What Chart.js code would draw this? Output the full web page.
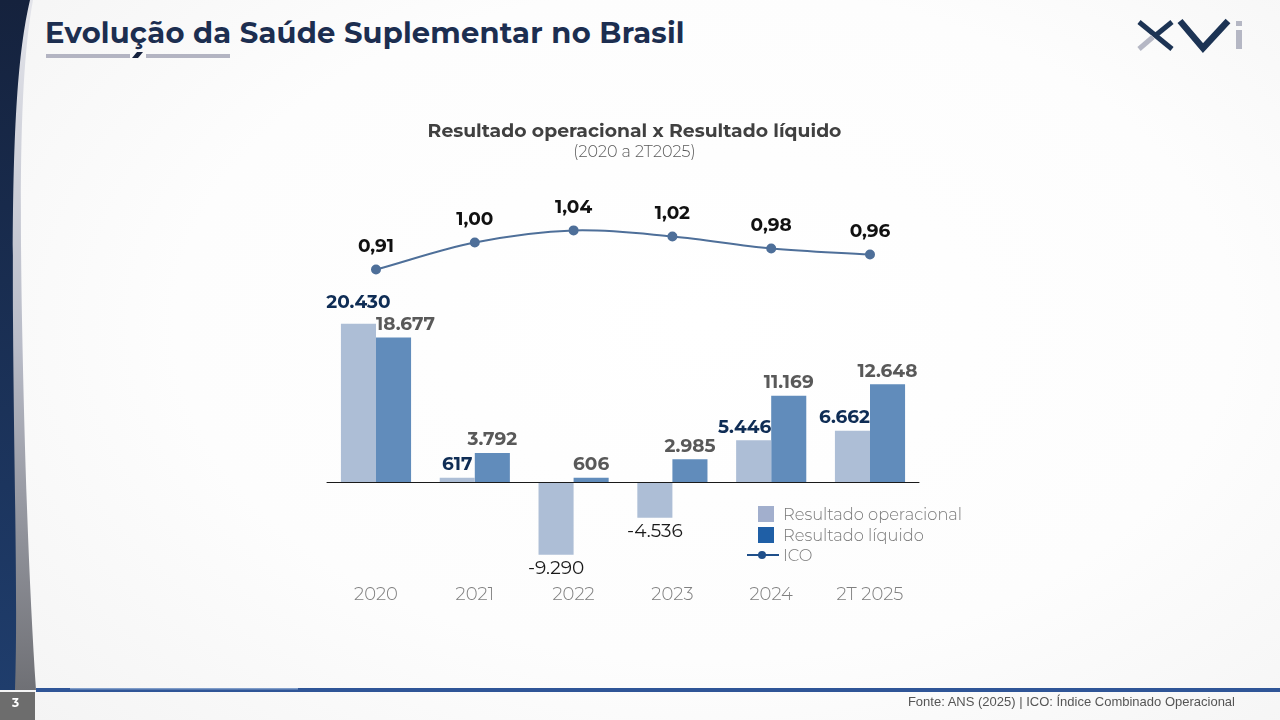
<!DOCTYPE html>
<html lang="pt-BR">
<head>
<meta charset="utf-8">
<title>Evolução da Saúde Suplementar no Brasil</title>
<script src="https://cdn.jsdelivr.net/npm/chart.js@4.4.1/dist/chart.umd.min.js"></script>
<style>
  html, body { margin: 0; padding: 0; }
  body {
    width: 1280px; height: 720px; overflow: hidden; position: relative;
    font-family: Montserrat, Inter, 'Open Sans', sans-serif;
    background: radial-gradient(ellipse 75% 85% at 55% 45%, #ffffff 0%, #fdfdfd 55%, #f3f3f3 100%);
  }
  #deco { position: absolute; left: 0; top: 0; }
  #pageTitle {
    position: absolute; left: 45px; top: 15px; margin: 0;
    font-size: 29px; font-weight: 700; color: #1c2e50; letter-spacing: 0.2px;
  }
  #chartWrap { position: absolute; left: 0; top: 0; width: 1280px; height: 720px; }
  #legend { position: absolute; left: 747px; top: 504px; font-size: 16.3px; color: #7a7a7a; font-weight: 300; }
  .lg { height: 20.5px; display: flex; align-items: center; }
  .sw { width: 16px; height: 16px; margin-left: 11px; margin-right: 9px; }
  .ln { width: 32px; height: 16px; margin-right: 4px; position: relative; }
  .ln::before { content: ''; position: absolute; left: 0; right: 0; top: 7px; height: 2px; background: var(--c); }
  .ln::after { content: ''; position: absolute; left: 11px; top: 4px; width: 8px; height: 8px; border-radius: 50%; background: var(--c); }
  #fonte {
    position: absolute; right: 45px; top: 694px;
    font-family: 'Liberation Sans Narrow', 'Arial Narrow', sans-serif; font-size: 13px; color: #555;
  }
  #pageNum { position: absolute; left: 12px; top: 695px; font-size: 12px; font-weight: 700; color: #fff; }
</style>
</head>
<body>
<svg id="deco" width="1280" height="720">
  <defs>
    <linearGradient id="navy" x1="0" y1="0" x2="0" y2="1">
      <stop offset="0" stop-color="#15223d"/>
      <stop offset="1" stop-color="#1f3d6c"/>
    </linearGradient>
    <linearGradient id="silver" x1="0" y1="0" x2="0" y2="1">
      <stop offset="0" stop-color="#e3e4ea"/>
      <stop offset="0.5" stop-color="#b9bcc8"/>
      <stop offset="1" stop-color="#6f7075"/>
    </linearGradient>
  </defs>
  <path d="M0 0 L33 0 C 22 60, 19 150, 22 320 C 25 480, 30 600, 36 690 L0 690 Z" fill="url(#silver)"/>
  <path d="M0 0 L30 0 C 16 60, 12 150, 13 320 C 14 480, 18 600, 15 690 L0 690 Z" fill="url(#navy)"/>
  <rect x="0" y="692" width="35" height="28" fill="#6d6d6d"/>
  <rect x="36" y="688" width="1244" height="4" fill="#2f5597"/>
  <rect x="70" y="688" width="228" height="1.5" fill="#7f9cc8"/>
  <rect x="46" y="54" width="84" height="4" fill="#b3b4c2"/>
  <rect x="146" y="54" width="84" height="4" fill="#b3b4c2"/>
  <polygon points="132,58 137,52 143,52 138,58" fill="#15223d"/>
  <!-- logo XVi -->
  <line x1="1139" y1="22" x2="1172" y2="49" stroke="#1c3354" stroke-width="5"/>
  <line x1="1172" y1="22" x2="1156" y2="35" stroke="#1c3354" stroke-width="5"/>
  <line x1="1153" y1="37" x2="1139" y2="49" stroke="#b5b7c4" stroke-width="5"/>
  <polyline points="1180,21 1203,48 1228,21" fill="none" stroke="#1c3354" stroke-width="6.5" stroke-linejoin="miter"/>
  <rect x="1236" y="21" width="6" height="5" fill="#b5b7c4"/>
  <rect x="1236" y="30" width="6" height="19" fill="#b5b7c4"/>
</svg>

<h1 id="pageTitle">Evolução da Saúde Suplementar no Brasil</h1>

<div id="chartWrap"><canvas id="chart"></canvas></div>
<div id="legend"></div>

<div id="fonte">Fonte: ANS (2025) | ICO: Índice Combinado Operacional</div>
<div id="pageNum">3</div>

<script>
const FONT = "Montserrat, Inter, 'Open Sans', sans-serif";

const categories = ['2020', '2021', '2022', '2023', '2024', '2T 2025'];
const resultadoOperacional = [20430, 617, -9290, -4536, 5446, 6662];
const resultadoLiquido = [18677, 3792, 606, 2985, 11169, 12648];
const icoValues = [0.91, 1.00, 1.04, 1.02, 0.98, 0.96];

// scale bounds so that bars and line land where they do in the slide
const barMin = -12219, barMax = 36398;
const icoMin = -0.1117, icoMax = 1.1417;

const fmtThousands = v => {
  const s = String(Math.abs(v)).replace(/\B(?=(\d{3})+(?!\d))/g, '.');
  return v < 0 ? '-' + s : s;
};
const fmtIco = v => v.toFixed(2).replace('.', ',');

// value labels, nudged sideways when they would run into the neighbouring taller bar
const labelsPlugin = {
  id: 'valueLabels',
  afterDatasetsDraw(chart) {
    const ctx = chart.ctx;
    const op = chart.getDatasetMeta(0).data;
    const liq = chart.getDatasetMeta(1).data;
    const line = chart.getDatasetMeta(2).data;
    const zeroY = chart.scales.y.getPixelForValue(0);
    const H = 18;
    const size = 18.5;

    ctx.save();
    ctx.strokeStyle = '#1a1a1a';
    ctx.lineWidth = 1.2;
    ctx.beginPath();
    ctx.moveTo(chart.chartArea.left, zeroY);
    ctx.lineTo(chart.chartArea.right, zeroY);
    ctx.stroke();

    ctx.textAlign = 'center';
    ctx.textBaseline = 'middle';

    categories.forEach((c, i) => {
      const a = op[i], b = liq[i];
      const va = resultadoOperacional[i], vb = resultadoLiquido[i];

      // liquido label
      ctx.font = `700 ${size}px ${FONT}`;
      const wb = ctx.measureText(fmtThousands(vb)).width;
      let xb = b.x, yb = vb >= 0 ? b.y - 13 : b.y + 14;
      const aTop = va >= 0 ? a.y : zeroY;
      if (vb >= 0 && xb - wb / 2 < a.x + a.width / 2 && aTop < yb + H / 2) {
        xb = a.x + a.width / 2 + wb / 2;
      }

      // operacional label
      const bold = va >= 0;
      ctx.font = `${bold ? 700 : 400} ${size}px ${FONT}`;
      const wa = ctx.measureText(fmtThousands(va)).width;
      let xa = a.x, ya = va >= 0 ? a.y - 13 : a.y + 14;
      const bTop = vb >= 0 ? b.y : zeroY;
      if (va >= 0 && xa + wa / 2 > b.x - b.width / 2 && bTop < ya + H / 2) {
        xa = b.x - b.width / 2 - wa / 2;
      }
      if (va >= 0 && vb >= 0 && xa + wa / 2 > xb - wb / 2 && Math.abs(ya - yb) < H) {
        ya = yb - 22;
      }

      ctx.fillStyle = bold ? '#0f2d55' : '#1a1a1a';
      ctx.fillText(fmtThousands(va), xa, ya);
      ctx.font = `700 ${size}px ${FONT}`;
      ctx.fillStyle = '#595959';
      ctx.fillText(fmtThousands(vb), xb, yb);

      // ICO label
      const p = line[i];
      ctx.fillStyle = '#111111';
      ctx.fillText(fmtIco(icoValues[i]), p.x, p.y - 23);
    });
    ctx.restore();
  }
};

const chart = new Chart(document.getElementById('chart'), {
  type: 'bar',
  data: {
    labels: categories,
    datasets: [
      {
        label: 'Resultado operacional',
        data: resultadoOperacional,
        backgroundColor: '#adbed6',
        legendColor: '#a2afcd',
        categoryPercentage: 0.71,
        barPercentage: 1.0,
        yAxisID: 'y'
      },
      {
        label: 'Resultado líquido',
        data: resultadoLiquido,
        backgroundColor: '#618cbb',
        legendColor: '#1f5fa6',
        categoryPercentage: 0.71,
        barPercentage: 1.0,
        yAxisID: 'y'
      },
      {
        type: 'line',
        label: 'ICO',
        data: icoValues,
        borderColor: '#4e6f99',
        backgroundColor: '#4e6f99',
        legendColor: '#1f4f8a',
        borderWidth: 2,
        pointRadius: 4,
        pointHoverRadius: 4,
        tension: 0.35,
        yAxisID: 'y1'
      }
    ]
  },
  options: {
    responsive: true,
    maintainAspectRatio: false,
    animation: false,
    layout: { padding: { left: 326.6, right: 337.6, top: 120, bottom: 107 } },
    plugins: {
      legend: { display: false },
      tooltip: { enabled: false },
      title: {
        display: true,
        text: 'Resultado operacional x Resultado líquido',
        color: '#404040',
        font: { family: FONT, size: 18.8, weight: 'bold' },
        padding: { top: 0, bottom: 0 }
      },
      subtitle: {
        display: true,
        text: '(2020 a 2T2025)',
        color: '#595959',
        font: { family: FONT, size: 16, weight: 300 },
        padding: { top: 0, bottom: 38 }
      }
    },
    scales: {
      x: {
        grid: { display: false, drawTicks: false },
        border: { display: false },
        ticks: { color: '#808080', font: { family: FONT, size: 18, weight: 300 }, padding: 7 }
      },
      y: {
        display: false,
        min: barMin,
        max: barMax
      },
      y1: {
        position: 'right',
        min: icoMin,
        max: icoMax,
        grid: { display: false, drawTicks: false },
        border: { display: false },
        ticks: { display: false },
        afterFit(scale) { scale.width = 23; }
      }
    }
  },
  plugins: [labelsPlugin]
});

// legend built from the chart's datasets
const legendEl = document.getElementById('legend');
chart.data.datasets.forEach(ds => {
  const row = document.createElement('div');
  row.className = 'lg';
  const mark = document.createElement('span');
  if (ds.type === 'line') {
    mark.className = 'ln';
    mark.style.setProperty('--c', ds.legendColor);
  } else {
    mark.className = 'sw';
    mark.style.background = ds.legendColor;
  }
  row.appendChild(mark);
  row.appendChild(document.createTextNode(ds.label));
  legendEl.appendChild(row);
});
</script>
</body>
</html>
